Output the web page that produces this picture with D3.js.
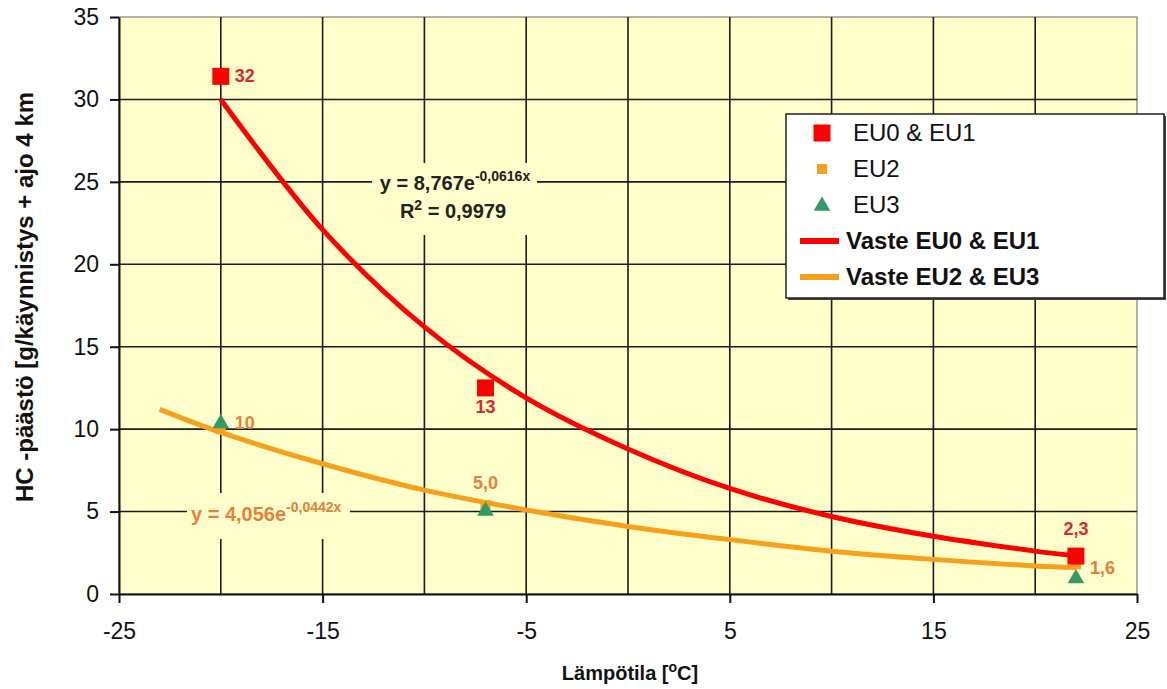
<!DOCTYPE html>
<html>
<head>
<meta charset="utf-8">
<script src="https://cdn.jsdelivr.net/npm/d3@7"></script>
<style>
  body { margin: 0; background: #fff; }
  svg { display: block; font-family: "Liberation Sans", Arial, sans-serif; }
</style>
</head>
<body>
<svg id="chart" width="1167" height="689"></svg>
<script>
// measured points
const eu01 = [[-20, 31.4], [-7, 12.5], [22, 2.3]];
const eu01Labels = ["32", "13", "2,3"];
const eu2 = [[-20, 10.0], [-7, 5.4], [22, 1.8]];
const eu3 = [[-20, 10.4], [-7, 5.1], [22, 1.0]];
const eu23Labels = ["10", "5,0", "1,6"];

// trend lines
const vasteEu01 = [[-20, 30.0], [-15, 22.1], [-10, 16.2], [-5, 11.9], [0, 8.8], [5, 6.4], [10, 4.7], [15, 3.5], [20, 2.6], [22, 2.3]];
const vasteEu23 = [[-23, 11.2], [-20, 9.8], [-15, 7.9], [-10, 6.3], [-5, 5.1], [0, 4.1], [5, 3.3], [10, 2.6], [15, 2.1], [20, 1.7], [22, 1.6]];

const xTicks = [-25, -15, -5, 5, 15, 25];
const xGrid = [-20, -15, -10, -5, 0, 5, 10, 15, 20];
const yTicks = [0, 5, 10, 15, 20, 25, 30, 35];

const legendItems = ["EU0 & EU1", "EU2", "EU3", "Vaste EU0 & EU1", "Vaste EU2 & EU3"];

const RED = "#ff0000", ORANGE = "#f7a01c", GREEN = "#339966";
const RED_TXT = "#e02828", ORANGE_TXT = "#e8803a";
const BG = "#ffffcc";

const svg = d3.select("#chart");
const x = d3.scaleLinear().domain([-25, 25]).range([119, 1137]);
const y = d3.scaleLinear().domain([0, 35]).range([594, 17]);

// plot area
svg.append("rect")
  .attr("x", x(-25)).attr("y", y(35))
  .attr("width", x(25) - x(-25)).attr("height", y(0) - y(35))
  .attr("fill", BG).attr("stroke", "#666").attr("stroke-width", 1);

// grid
svg.append("g").selectAll("line")
  .data(xGrid).enter().append("line")
  .attr("x1", d => x(d)).attr("x2", d => x(d))
  .attr("y1", y(0)).attr("y2", y(35))
  .attr("stroke", "#1a1a1a").attr("stroke-width", 1.6);
svg.append("g").selectAll("line")
  .data(yTicks.filter(d => d > 0 && d < 35)).enter().append("line")
  .attr("x1", x(-25)).attr("x2", x(25))
  .attr("y1", d => y(d)).attr("y2", d => y(d))
  .attr("stroke", "#1a1a1a").attr("stroke-width", 1.6);

// axes
const xAxis = svg.append("g")
  .attr("transform", `translate(0,${y(0)})`)
  .call(d3.axisBottom(x).tickValues(xTicks).tickSize(9).tickSizeOuter(0).tickPadding(20)
    .tickFormat(d => d));
const yAxis = svg.append("g")
  .attr("transform", `translate(${x(-25)},0)`)
  .call(d3.axisLeft(y).tickValues(yTicks).tickSize(9).tickSizeOuter(0).tickPadding(11));
[xAxis, yAxis].forEach(a => {
  a.select(".domain").attr("stroke", "#111").attr("stroke-width", 2);
  a.selectAll(".tick line").attr("stroke", "#111").attr("stroke-width", 2);
  a.selectAll(".tick text").attr("fill", "#111")
    .style("font-size", "23px").style("font-family", "'Liberation Sans', Arial, sans-serif");
});

// equation boxes (hide grid behind text)
function equation(cx, by, lead, sup, color, anchor) {
  const t = svg.append("text")
    .attr("x", cx).attr("y", by)
    .attr("text-anchor", anchor)
    .attr("fill", color)
    .style("font-size", "20px").style("font-weight", "bold");
  t.append("tspan").text(lead);
  t.append("tspan").attr("dy", -9).style("font-size", "14px").text(sup);
  return t;
}
svg.append("rect").attr("x", 372).attr("y", 163).attr("width", 165).attr("height", 72).attr("fill", BG);
equation(455, 190, "y = 8,767e", "-0,0616x", "#222", "middle");
const r2 = svg.append("text").attr("x", 453).attr("y", 218).attr("text-anchor", "middle")
  .attr("fill", "#222").style("font-size", "20px").style("font-weight", "bold");
r2.append("tspan").text("R");
r2.append("tspan").attr("dy", -8).style("font-size", "14px").text("2");
r2.append("tspan").attr("dy", 8).text(" = 0,9979");

svg.append("rect").attr("x", 187).attr("y", 493).attr("width", 163).attr("height", 46).attr("fill", BG);
equation(191, 521, "y = 4,056e", "-0,0442x", ORANGE_TXT, "start");

// EU2 markers (under the trend line)
svg.append("g").selectAll("rect")
  .data(eu2).enter().append("rect")
  .attr("x", d => x(d[0]) - 5).attr("y", d => y(d[1]) - 5)
  .attr("width", 10).attr("height", 10).attr("fill", ORANGE);

// trend lines
const line = d3.line().x(d => x(d[0])).y(d => y(d[1])).curve(d3.curveCatmullRom);
svg.append("path").datum(vasteEu23).attr("d", line)
  .attr("fill", "none").attr("stroke", ORANGE).attr("stroke-width", 5);
svg.append("path").datum(vasteEu01).attr("d", line)
  .attr("fill", "none").attr("stroke", RED).attr("stroke-width", 5);

// markers
const tri = d3.symbol().type(d3.symbolTriangle).size(120);
svg.append("g").selectAll("path")
  .data(eu3).enter().append("path")
  .attr("d", tri)
  .attr("transform", d => `translate(${x(d[0])},${y(d[1]) + 1})`)
  .attr("fill", GREEN);
svg.append("g").selectAll("rect")
  .data(eu01).enter().append("rect")
  .attr("x", d => x(d[0]) - 8.5).attr("y", d => y(d[1]) - 8.5)
  .attr("width", 17).attr("height", 17).attr("fill", RED);

// data labels
const place = {
  right: (px, py) => [px + 14, py + 6, "start"],
  upright: (px, py) => [px + 14, py - 4, "start"],
  below: (px, py) => [px, py + 25, "middle"],
  above: (px, py) => [px, py - 21, "middle"]
};
function labels(pts, texts, where, color) {
  svg.append("g").selectAll("text")
    .data(pts).enter().append("text")
    .each(function (d, i) {
      const [lx, ly, anc] = place[where[i]](x(d[0]), y(d[1]));
      d3.select(this).attr("x", lx).attr("y", ly).attr("text-anchor", anc).text(texts[i]);
    })
    .attr("fill", color).style("font-size", "18px").style("font-weight", "bold");
}
labels(eu01, eu01Labels, ["right", "below", "above"], RED_TXT);
labels(eu3, eu23Labels, ["right", "above", "upright"], ORANGE_TXT);

// axis titles
svg.append("text")
  .attr("transform", "translate(33,297) rotate(-90)")
  .attr("text-anchor", "middle").attr("fill", "#111")
  .style("font-size", "24px").style("font-weight", "bold")
  .text("HC -päästö [g/käynnistys + ajo 4 km");
const xt = svg.append("text")
  .attr("x", 630).attr("y", 680).attr("text-anchor", "middle")
  .attr("fill", "#111").style("font-size", "20px").style("font-weight", "bold");
xt.append("tspan").text("Lämpötila [");
xt.append("tspan").attr("dy", -8).style("font-size", "14px").text("o");
xt.append("tspan").attr("dy", 8).text("C]");

// legend
const lg = svg.append("g");
lg.append("rect").attr("x", 788).attr("y", 116).attr("width", 378).attr("height", 184).attr("fill", "#444");
lg.append("rect").attr("x", 786).attr("y", 114).attr("width", 378).attr("height", 184)
  .attr("fill", "#fff").attr("stroke", "#222").attr("stroke-width", 1.5);
const rowY = d3.scalePoint().domain(legendItems).range([133, 277]);
legendItems.forEach((name, i) => {
  const cy = rowY(name);
  if (i === 0) lg.append("rect").attr("x", 822 - 8.5).attr("y", cy - 8.5).attr("width", 17).attr("height", 17).attr("fill", RED);
  if (i === 1) lg.append("rect").attr("x", 822 - 5).attr("y", cy - 5).attr("width", 10).attr("height", 10).attr("fill", ORANGE);
  if (i === 2) lg.append("path").attr("d", tri).attr("transform", `translate(822,${cy + 1})`).attr("fill", GREEN);
  if (i >= 3) lg.append("line").attr("x1", 800).attr("x2", 839).attr("y1", cy).attr("y2", cy)
    .attr("stroke", i === 3 ? RED : ORANGE).attr("stroke-width", 6);
  lg.append("text")
    .attr("x", i < 3 ? 853 : 846).attr("y", cy + 8)
    .attr("fill", "#111")
    .style("font-size", "24px").style("font-weight", i < 3 ? "normal" : "bold")
    .text(name);
});
</script>
</body>
</html>
